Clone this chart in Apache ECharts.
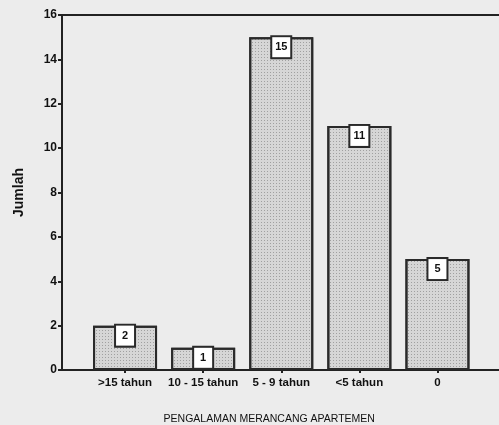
<!DOCTYPE html>
<html>
<head>
<meta charset="utf-8">
<script src="https://cdn.jsdelivr.net/npm/echarts@6/dist/echarts.min.js"></script>
<style>
  html, body { margin: 0; padding: 0; background: #ececec; }
  #chart { width: 499px; height: 425px; }
</style>
</head>
<body>
<div id="chart"></div>
<script>
var categories = ['>15 tahun', '10 - 15 tahun', '5 - 9 tahun', '<5 tahun', '0'];
var jumlah = [2, 1, 15, 11, 5];
var yTicks = [0, 2, 4, 6, 8, 10, 12, 14, 16];

var chart = echarts.init(document.getElementById('chart'));
var fontFam = 'Liberation Sans, Arial, sans-serif';

var option = {
    backgroundColor: '#ececec',
    animation: false,
    aria: { enabled: false, decal: { show: true } },
    grid: [
        // frame: left axis, top & bottom lines
        { left: 62, right: -6, top: 15, bottom: 55, show: true, borderColor: '#222', borderWidth: 2, outerBoundsMode: 'none' },
        // bars
        { left: 86, right: 22.5, top: 15, bottom: 55, outerBoundsMode: 'none' }
    ],
    xAxis: [
        {
            gridIndex: 0, type: 'category', data: [''],
            axisLine: { show: false }, axisTick: { show: false }, axisLabel: { show: false }
        },
        {
            gridIndex: 1, type: 'category', data: categories,
            axisLine: { show: false },
            axisTick: { show: true, alignWithLabel: true, length: 3, lineStyle: { color: '#222', width: 2 } },
            axisLabel: { interval: 0, color: '#111', fontFamily: fontFam, fontSize: 11.5, fontWeight: 'bold', margin: 7 },
            name: 'PENGALAMAN MERANCANG APARTEMEN',
            nameLocation: 'middle',
            nameGap: 44,
            nameTextStyle: { color: '#111', fontFamily: fontFam, fontSize: 10.5, padding: [0, 24, 0, 0] }
        }
    ],
    yAxis: [
        {
            gridIndex: 0, type: 'value', min: 0, max: 16, interval: 2,
            axisLine: { show: true, lineStyle: { color: '#222', width: 2 } },
            axisTick: { show: true, length: 4, lineStyle: { color: '#222', width: 2 } },
            splitLine: { show: false },
            axisLabel: {
                color: '#111', fontFamily: fontFam, fontSize: 12, fontWeight: 'bold', margin: 5,
                formatter: function (v) { return yTicks.indexOf(v) >= 0 ? String(v) : ''; }
            },
            name: 'Jumlah',
            nameLocation: 'middle',
            nameGap: 36,
            nameTextStyle: { color: '#111', fontFamily: fontFam, fontSize: 14, fontWeight: 'bold' }
        },
        {
            gridIndex: 1, type: 'value', min: 0, max: 16, interval: 2, show: false
        }
    ],
    series: [
        {
            type: 'bar',
            xAxisIndex: 1,
            yAxisIndex: 1,
            data: jumlah,
            barWidth: 64,
            itemStyle: {
                color: '#d6d6d6', borderColor: '#2a2a2a', borderWidth: 2,
                decal: {
                    symbol: 'rect', symbolSize: 1, color: 'rgba(60,60,60,0.35)',
                    dashArrayX: [1, 2], dashArrayY: [1, 2], rotation: 0
                }
            },
            label: {
                show: true,
                position: 'insideTop',
                distance: 0,
                color: '#111',
                fontFamily: fontFam,
                fontSize: 11,
                fontWeight: 'bold',
                lineHeight: 12,
                width: 12,
                align: 'center',
                padding: [4, 3, 4, 3],
                backgroundColor: '#ffffff',
                borderColor: '#2a2a2a',
                borderWidth: 2
            }
        }
    ]
};
chart.setOption(option);
</script>
</body>
</html>
